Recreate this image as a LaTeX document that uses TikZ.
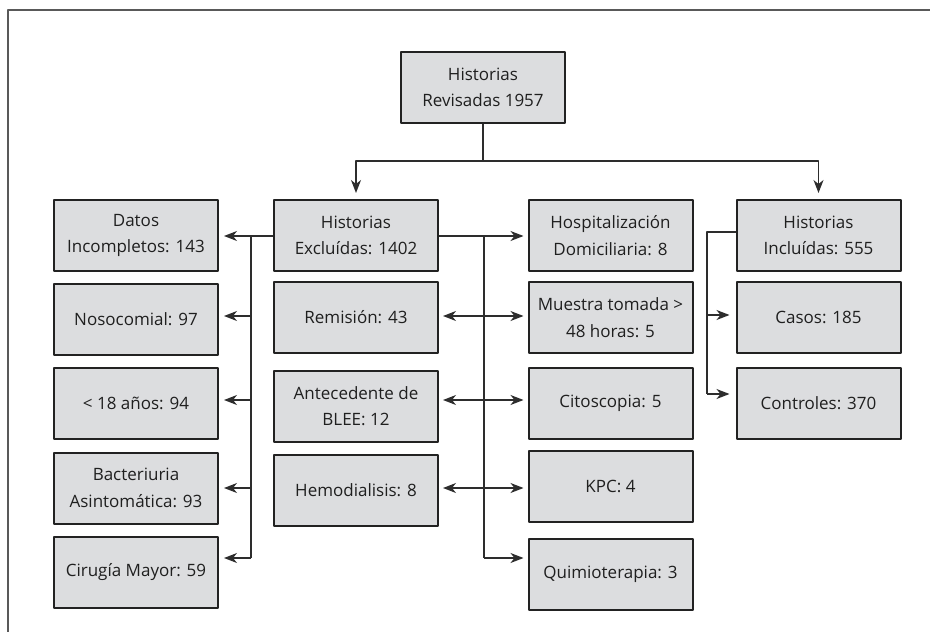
\documentclass[tikz,border=0pt]{standalone}
\usepackage{fontspec}
\setmainfont{Open Sans}
\usetikzlibrary{arrows.meta}
\definecolor{boxgray}{RGB}{220,221,223}
\definecolor{boxline}{RGB}{34,34,34}
\definecolor{wire}{RGB}{45,45,45}
\tikzset{
  box/.style={draw=boxline, fill=boxgray, line width=2pt, minimum width=164pt,
    minimum height=71pt, inner sep=0pt, align=center},
  wire/.style={draw=wire, line width=1.3pt},
}
\begin{document}
\begin{tikzpicture}[x=1pt, y=-1pt, line join=round, >={Stealth[length=13pt,width=10pt,inset=4pt]},
    font=\fontsize{17}{26.5}\selectfont, text=black!88]
  \useasboundingbox (0,0) rectangle (930,632);
  \draw[draw=black!65, line width=1.4pt] (930,10) -- (8,10) -- (8,632);
  % cajas
  \node[box] (rev) at (483,87.5) {Historias\\Revisadas 1957};
  \foreach \n/\y/\t in {datos/235.5/{Datos\\Incompletos: 143}, noso/319.5/{Nosocomial: 97},
      menor/403.5/{< 18 años: 94}, bact/488/{Bacteriuria\\Asintomática: 93},
      ciru/572.5/{Cirugía Mayor: 59}}
    \node[box] (\n) at (136,\y) {\t};
  \foreach \n/\y/\t in {excl/235.5/{Historias\\Excluídas: 1402}, remi/317.5/{Remisión: 43},
      ante/406/{Antecedente de\\BLEE: 12}, hemo/490.5/{Hemodialisis: 8}}
    \node[box] (\n) at (356,\y) {\t};
  \foreach \n/\y/\t in {hosp/235.5/{Hospitalización\\Domiciliaria: 8},
      mues/317.5/{Muestra tomada >\\48 horas: 5}, cito/403.5/{Citoscopia: 5},
      kpc/486/{KPC: 4}, quim/574.5/{Quimioterapia: 3}}
    \node[box] (\n) at (610.5,\y) {\t};
  \foreach \n/\y/\t in {incl/235.5/{Historias\\Incluídas: 555}, casos/317.5/{Casos: 185},
      contr/403.5/{Controles: 370}}
    \node[box] (\n) at (818.5,\y) {\t};
  % conectores
  \path (rev.south) ++(0,37) coordinate (T)
    (251,236) coordinate (L1) (251,316) coordinate (L2) (251,400) coordinate (L3)
    (251,488) coordinate (L4) (251,558) coordinate (L5)
    (484,236) coordinate (M1) (484,316) coordinate (M2) (484,400) coordinate (M3)
    (484,488) coordinate (M4) (484,558) coordinate (M5)
    (707,232) coordinate (R1) (707,315) coordinate (R2) (707,394) coordinate (R3);
  \draw[wire] (rev.south) -- (T);
  \draw[wire, ->, shorten >=6pt] (T) -| (excl.north);
  \draw[wire, ->, shorten >=6pt] (T) -| (incl.north);
  \draw[wire] (excl.west |- L1) -- (L1) -- (L5);
  \foreach \i/\n in {1/datos, 2/noso, 3/menor, 4/bact, 5/ciru}
    \draw[wire, ->, shorten >=5pt] (L\i) -- (\n.east |- L\i);
  \draw[wire] (excl.east |- M1) -- (M1) -- (M5);
  \foreach \i/\n in {1/hosp, 2/mues, 3/cito, 4/kpc, 5/quim}
    \draw[wire, ->, shorten >=4pt] (M\i) -- (\n.west |- M\i);
  \foreach \i/\n in {2/remi, 3/ante, 4/hemo}
    \draw[wire, ->, shorten >=4pt] (M\i) -- (\n.east |- M\i);
  \draw[wire] (incl.west |- R1) -- (R1) -- (R3);
  \foreach \i/\n in {2/casos, 3/contr}
    \draw[wire, ->, shorten >=6pt] (R\i) -- (\n.west |- R\i);
\end{tikzpicture}
\end{document}
